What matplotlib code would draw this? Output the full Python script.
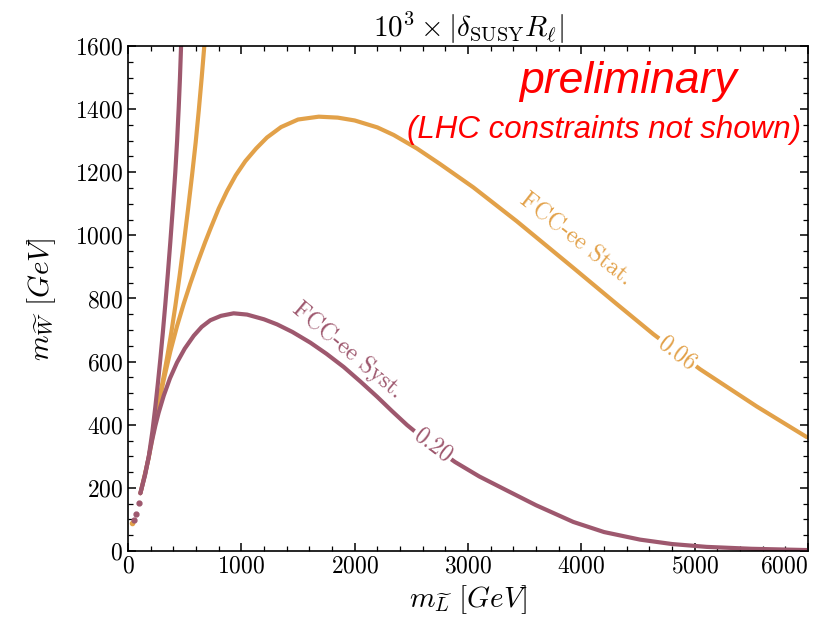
import numpy as np
import matplotlib
matplotlib.use("Agg")
import matplotlib.pyplot as plt
from matplotlib.ticker import MultipleLocator

plt.rcParams['font.family'] = 'serif'
plt.rcParams['font.serif'] = ['cmr10', 'DejaVu Serif']
plt.rcParams['mathtext.fontset'] = 'cm'
plt.rcParams['axes.formatter.use_mathtext'] = True

# contour 0.06 (FCC-ee Stat.)
stat_left_x = [241, 271, 307, 344, 380, 417, 455, 491, 530, 565, 597, 624, 650, 673]
stat_left_y = [420, 474, 539, 611, 688, 775, 872, 971, 1084, 1191, 1295, 1395, 1500, 1600]
stat_main_x = [109, 150, 183, 215, 241, 271, 315, 373, 432, 491, 550, 609, 680, 726, 800,
               873, 950, 1035, 1130, 1226, 1350, 1500, 1683, 1850, 2000, 2200, 2344, 2550,
               2753, 3047, 3429, 3929, 4300, 4635, 5047, 5547, 5988]
stat_main_y = [183, 245, 296, 360, 411, 467, 542, 632, 712, 783, 848, 909, 978, 1020, 1085,
               1140, 1190, 1235, 1275, 1310, 1343, 1367, 1376, 1373, 1364, 1342, 1318, 1275,
               1226, 1152, 1045, 897, 786, 687, 576, 458, 361]

# contour 0.20 (FCC-ee Syst.)
syst_left_x = [109, 150, 183, 215, 241, 263, 285, 307, 329, 351, 373, 395, 417, 433, 447,
               458, 468]
syst_left_y = [183, 240, 299, 379, 457, 530, 608, 692, 782, 877, 978, 1086, 1200, 1299, 1403,
               1497, 1600]
syst_main_x = [109, 150, 183, 215, 241, 270, 315, 370, 432, 500, 580, 650, 726, 820, 932,
               1050, 1200, 1315, 1450, 1609, 1750, 1903, 2050, 2197, 2330, 2462, 2680, 2885,
               3100, 3341, 3600, 3929, 4200, 4518, 4800, 5106, 5500, 5988]
syst_main_y = [183, 243, 299, 355, 397, 438, 492, 547, 597, 641, 682, 710, 731, 745, 753,
               749, 734, 718, 694, 660, 625, 583, 537, 489, 443, 399, 335, 282,
               236, 192, 145, 92, 60, 36, 22, 13, 7, 3]

# stray contour fragments near the origin
syst_dots_x = [94, 74, 56]
syst_dots_y = [151, 117, 98]
stat_dots_x = [35]
stat_dots_y = [88]

c_stat = '#E2A149'
c_syst = '#9E586E'

fig = plt.figure(figsize=(8.39, 6.35), dpi=100)
ax = fig.add_axes([0.1526, 0.1323, 0.8105, 0.7953])

lw = 3.0
ax.plot(stat_left_x, stat_left_y, color=c_stat, lw=lw, solid_capstyle='round')
ax.plot(stat_main_x, stat_main_y, color=c_stat, lw=lw, solid_capstyle='round')
ax.plot(syst_left_x, syst_left_y, color=c_syst, lw=lw, solid_capstyle='round')
ax.plot(syst_main_x, syst_main_y, color=c_syst, lw=lw, solid_capstyle='round')
ax.plot(stat_dots_x, stat_dots_y, 'o', color=c_stat, ms=3)
ax.plot(syst_dots_x, syst_dots_y, 'o', color=c_syst, ms=3.5)

# inline contour labels (white box cuts the line)
box = dict(facecolor='white', edgecolor='none', pad=1.5)
ax.text(2690, 335, '0.20', color=c_syst, fontsize=17, rotation=-37,
        ha='center', va='center', bbox=box, zorder=5)
ax.text(4840, 625, '0.06', color=c_stat, fontsize=17, rotation=-37,
        ha='center', va='center', bbox=box, zorder=5)
ax.text(1940, 635, 'FCC-ee Syst.', color=c_syst, fontsize=17, rotation=-40,
        ha='center', va='center')
ax.text(3950, 985, 'FCC-ee Stat.', color=c_stat, fontsize=17, rotation=-38,
        ha='center', va='center')

ax.text(4412, 1489, 'preliminary', color='red', fontsize=32, style='italic',
        family='Liberation Sans', ha='center', va='center')
ax.text(4200, 1335, '(LHC constraints not shown)', color='red', fontsize=22.5,
        style='italic', family='Liberation Sans', ha='center', va='center')

ax.set_xlim(0, 6000)
ax.set_ylim(0, 1600)
ax.xaxis.set_major_locator(MultipleLocator(1000))
ax.xaxis.set_minor_locator(MultipleLocator(200))
ax.yaxis.set_major_locator(MultipleLocator(200))
ax.yaxis.set_minor_locator(MultipleLocator(50))
ax.tick_params(which='both', direction='in', top=True, right=True, labelsize=17)
ax.tick_params(which='major', length=6, width=1.1)
ax.tick_params(which='minor', length=3.5, width=0.9)
for s in ax.spines.values():
    s.set_linewidth(1.2)

ax.set_xlabel(r'$m_{\widetilde{L}}\ [GeV]$', fontsize=21)
ax.set_ylabel(r'$m_{\widetilde{W}}\ [GeV]$', fontsize=21, labelpad=12)
ax.set_title(r'$10^3\times|\delta_{\rm SUSY}R_\ell|$', fontsize=21, pad=4)

# last x tick label sits flush with the right spine
fig.canvas.draw()
for t in ax.xaxis.get_major_ticks():
    if abs(t.get_loc() - 6000) < 1:
        t.label1.set_horizontalalignment('right')

fig.savefig('out.png', dpi=100)
